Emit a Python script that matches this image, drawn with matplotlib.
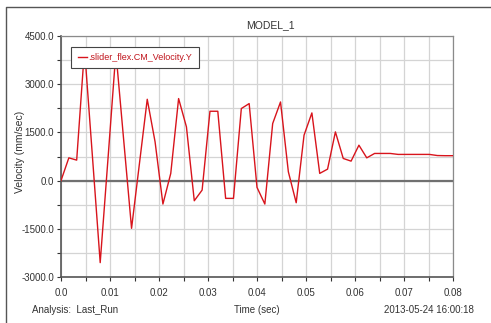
import numpy as np
import matplotlib.pyplot as plt
from matplotlib.ticker import FixedLocator, MultipleLocator, FormatStrFormatter

# sampled CM velocity of the slider (every 1.6 ms)
time_s = [0.0, 0.0016, 0.0032, 0.0048, 0.0064, 0.0080, 0.0096, 0.0112, 0.0128, 0.0144,
          0.0160, 0.0176, 0.0192, 0.0208, 0.0224, 0.0240, 0.0256, 0.0272, 0.0288, 0.0304,
          0.0320, 0.0336, 0.0352, 0.0368, 0.0384, 0.0400, 0.0416, 0.0432, 0.0448, 0.0464,
          0.0480, 0.0496, 0.0512, 0.0528, 0.0544, 0.0560, 0.0576, 0.0592, 0.0608, 0.0624,
          0.0640, 0.0656, 0.0672, 0.0688, 0.0704, 0.0720, 0.0736, 0.0752, 0.0768, 0.0784,
          0.0800]
velocity_y = [0, 708, 637, 4100, 780, -2553, 700, 4000, 1250, -1485,
              520, 2531, 1205, -730, 224, 2553, 1671, -627, -295, 2158,
              2158, -553, -553, 2242, 2397, -211, -730, 1776, 2447, 273,
              -689, 1413, 2106, 224, 357, 1516, 689, 606, 1102, 708,
              845, 845, 845, 815, 815, 815, 815, 815, 780, 775,
              775]

x_ticks = [0.0, 0.01, 0.02, 0.03, 0.04, 0.05, 0.06, 0.07, 0.08]
x_tick_labels = ['0.0', '0.01', '0.02', '0.03', '0.04', '0.05', '0.06', '0.07', '0.08']

plt.rcParams['font.family'] = ['Liberation Sans', 'DejaVu Sans']

fig = plt.figure(figsize=(4.91, 3.23), dpi=100)
ax = fig.add_axes([61 / 491, 1 - 277 / 323, 392 / 491, 241 / 323])

ax.plot(time_s, velocity_y, color='#d8141c', linewidth=1.0,
        label='.slider_flex.CM_Velocity.Y', zorder=3)
ax.axhline(0, color='#707070', linewidth=1.6, zorder=2)

ax.set_xlim(0, 0.08)
ax.set_ylim(-3000, 4500)
ax.xaxis.set_major_locator(FixedLocator(x_ticks))
ax.set_xticklabels(x_tick_labels)
ax.xaxis.set_minor_locator(MultipleLocator(0.005))
ax.yaxis.set_major_locator(MultipleLocator(1500))
ax.yaxis.set_minor_locator(MultipleLocator(750))
ax.yaxis.set_major_formatter(FormatStrFormatter('%.1f'))
ax.grid(True, which='both', color='#d4d4d4', linewidth=0.9, zorder=0)
ax.tick_params(which='both', direction='out', length=3, width=0.8,
               labelsize=7, colors='#333333', pad=2)
ax.tick_params(axis='x', pad=5)

for side in ['left', 'bottom']:
    ax.spines[side].set_color('#555555')
    ax.spines[side].set_linewidth(1.2)
for side in ['top', 'right']:
    ax.spines[side].set_color('#8a8a8a')
    ax.spines[side].set_linewidth(0.9)

leg = ax.legend(loc='upper left', bbox_to_anchor=(0.015, 0.975), fontsize=6.5,
                handlelength=1.0, handletextpad=0.2, borderpad=0.7,
                fancybox=False, framealpha=1, edgecolor='#444444')
leg.get_frame().set_linewidth(0.8)
for txt in leg.get_texts():
    txt.set_color('#c0141c')

fig.text(20 / 491, 1 - 152 / 323, 'Velocity (mm/sec)', fontsize=7.5, color='#333333',
         rotation=90, ha='center', va='center')
fig.text(270 / 491, 1 - 25 / 323, 'MODEL_1', fontsize=7.5, color='#333333',
         ha='center', va='center')
fig.text(32 / 491, 1 - 310 / 323, 'Analysis:  Last_Run', fontsize=7, color='#333333',
         ha='left', va='center')
fig.text(257 / 491, 1 - 310 / 323, 'Time (sec)', fontsize=7, color='#333333',
         ha='center', va='center')
fig.text(474 / 491, 1 - 310 / 323, '2013-05-24 16:00:18', fontsize=7, color='#333333',
         ha='right', va='center')

# outer panel border (top and left edges)
fig.add_artist(plt.Line2D([6 / 491, 6 / 491, 1.0], [0.0, 1 - 7 / 323, 1 - 7 / 323],
                          transform=fig.transFigure, color='#555555', linewidth=1.0))

fig.savefig('out.png', dpi=100)
